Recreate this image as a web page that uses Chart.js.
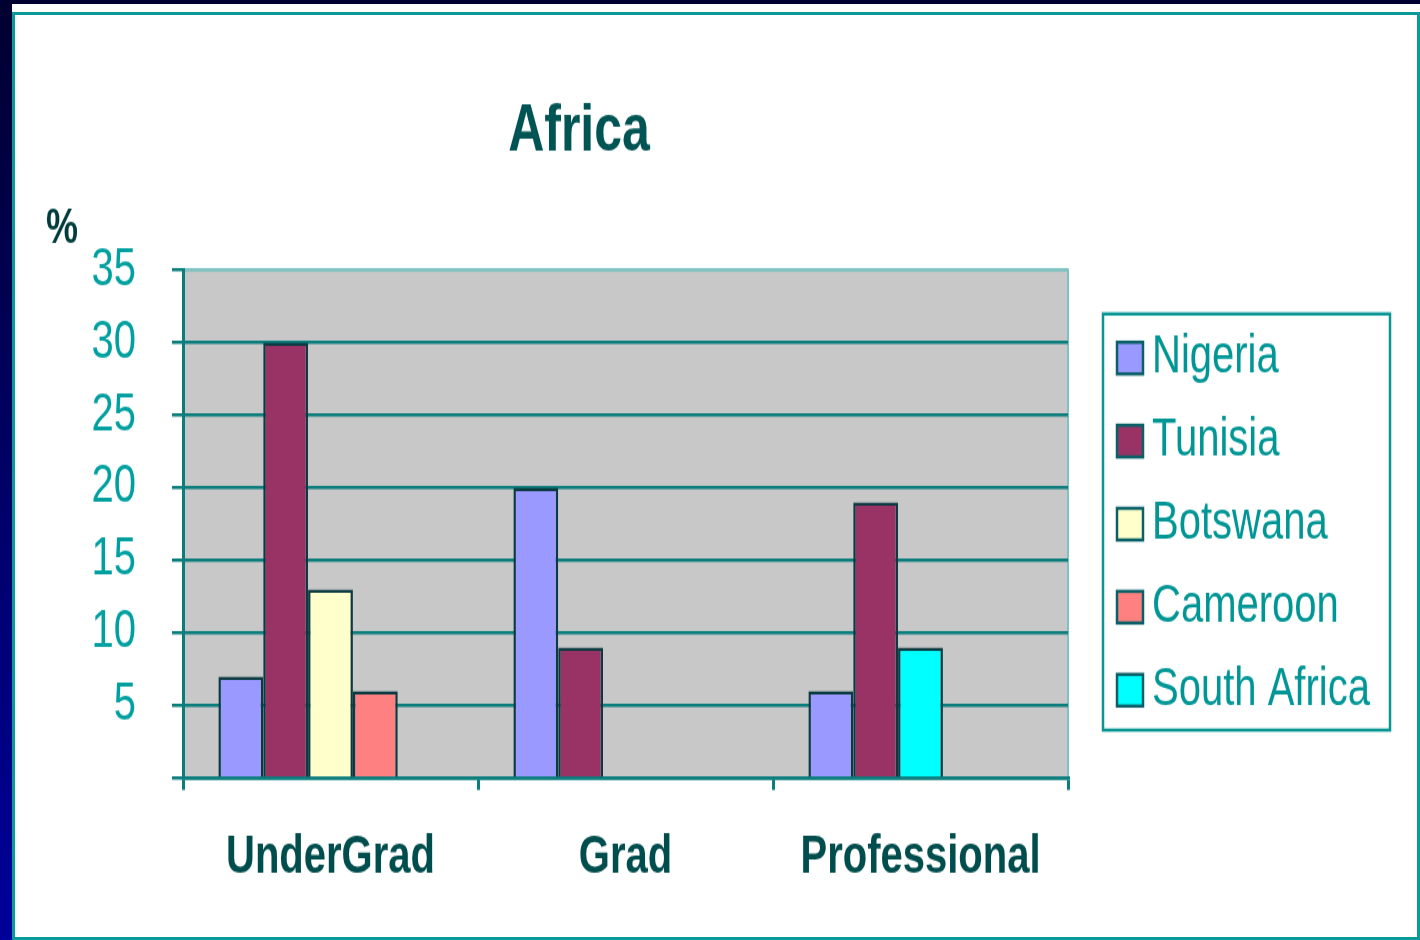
<!DOCTYPE html>
<html>
<head>
<meta charset="utf-8">
<title>Africa</title>
<script src="https://cdn.jsdelivr.net/npm/chart.js@4.4.1/dist/chart.umd.min.js"></script>
<style>
  html, body { margin: 0; padding: 0; }
  body {
    width: 1420px; height: 940px; overflow: hidden; position: relative;
    background: linear-gradient(to bottom, #000030 0%, #00009a 100%);
  }
  #panel { position: absolute; left: 12px; top: 4px; width: 1408px; height: 936px; background: #fff; }
  #frame {
    position: absolute; left: 12px; top: 12px; width: 1408px; height: 928px;
    border: 3px solid #0a9a9a; box-sizing: border-box;
  }
  #chart { position: absolute; left: 0; top: 0; }
</style>
</head>
<body>
<div id="panel"></div>
<div id="frame"></div>
<!-- the original picture is stretched vertically, so the canvas is drawn at 712px and shown at 940px -->
<canvas id="chart" width="1420" height="712" style="width:1420px;height:940px"></canvas>
<script>
const categories = ["UnderGrad", "Grad", "Professional"];
const nigeria = [7, 20, 6];
const tunisia = [30, 9, 19];
const botswana = [13, null, null];
const cameroon = [6, null, null];
const southAfrica = [null, null, 9];
const emptySlot = [null, null, null];
const yMin = 0, yMax = 35, yStep = 5;

const teal = "#0b7d7d";
const lightTeal = "#80c2c2";

Chart.defaults.font.family = "'Liberation Sans', Arial, sans-serif";

const plotBg = {
    id: "plotBg",
    beforeDraw(chart) {
        const { ctx, chartArea: a } = chart;
        ctx.save();
        ctx.fillStyle = "#c8c8c8";
        ctx.fillRect(a.left, a.top, a.right - a.left, a.bottom - a.top);
        ctx.strokeStyle = lightTeal;
        ctx.lineWidth = 2;
        ctx.strokeRect(a.left, a.top, a.right - a.left, a.bottom - a.top);
        ctx.restore();
    }
};

// boxed legend on the right plus the "%" unit label
const boxLegend = {
    id: "boxLegend",
    afterDraw(chart) {
        const { ctx, chartArea: a } = chart;
        const items = chart.data.datasets.filter(d => d.label);
        ctx.save();
        ctx.strokeStyle = "#0a9595";
        ctx.lineWidth = 2.5;
        ctx.strokeRect(a.right + 35, a.top + 33.3, 287, 315.2);

        ctx.font = "40px 'Liberation Sans', Arial, sans-serif";
        ctx.textBaseline = "middle";
        items.forEach((d, i) => {
            const cy = a.top + 66.7 + i * 62.9;
            const x0 = a.right + 49;
            ctx.fillStyle = d.backgroundColor;
            ctx.fillRect(x0, cy - 12, 26, 24);
            ctx.strokeStyle = "#0b5f66";
            ctx.lineWidth = 2.5;
            ctx.strokeRect(x0, cy - 12, 26, 24);
            ctx.fillStyle = "#009696";
            ctx.fillText(d.label, x0 + 35, cy);
        });

        ctx.font = "bold 36px 'Liberation Sans', Arial, sans-serif";
        ctx.textAlign = "center";
        ctx.fillStyle = "#003c3c";
        ctx.fillText("%", 62, a.top - 30.5);
        ctx.restore();
    }
};

new Chart(document.getElementById("chart"), {
    type: "bar",
    data: {
        labels: categories,
        datasets: [
            { label: "Nigeria", data: nigeria, backgroundColor: "#9999ff", stack: "s1" },
            { label: "Tunisia", data: tunisia, backgroundColor: "#993366", stack: "s2" },
            { label: "Botswana", data: botswana, backgroundColor: "#ffffcc", stack: "s3" },
            { label: "Cameroon", data: cameroon, backgroundColor: "#ff8080", stack: "s4" },
            { label: "South Africa", data: southAfrica, backgroundColor: "#00ffff", stack: "s3" },
            { label: "", data: emptySlot, stack: "s5" }
        ]
    },
    options: {
        responsive: false,
        devicePixelRatio: 1,
        animation: false,
        layout: { padding: { left: 90, right: 352, top: 0, bottom: 38.6 } },
        datasets: {
            bar: {
                categoryPercentage: 0.76,
                barPercentage: 1,
                borderColor: "#0b3a40",
                borderWidth: 2.5
            }
        },
        plugins: {
            legend: { display: false },
            tooltip: { enabled: false },
            title: {
                display: true,
                text: "Africa",
                color: "#005454",
                font: { size: 50, weight: "bold" },
                padding: { top: 70, bottom: 74.5 }
            }
        },
        scales: {
            x: {
                afterFit: s => { s.height = 84; },
                grid: {
                    drawOnChartArea: false,
                    color: teal,
                    lineWidth: 3,
                    tickLength: 9
                },
                border: { color: teal, width: 2.5 },
                ticks: {
                    color: "#004d4d",
                    font: { size: 40, weight: "bold" },
                    padding: 28
                }
            },
            y: {
                min: yMin,
                max: yMax,
                afterFit: s => { s.width = 93; },
                grid: {
                    color: c => (c.tick && c.tick.value === yMax ? lightTeal : teal),
                    tickColor: teal,
                    lineWidth: 2.5,
                    tickLength: 11
                },
                border: { color: teal, width: 3 },
                ticks: {
                    stepSize: yStep,
                    color: "#00a0a0",
                    font: { size: 40 },
                    padding: 36,
                    callback: v => (v === 0 ? "" : v)
                }
            }
        }
    },
    plugins: [plotBg, boxLegend]
});
</script>
</body>
</html>
